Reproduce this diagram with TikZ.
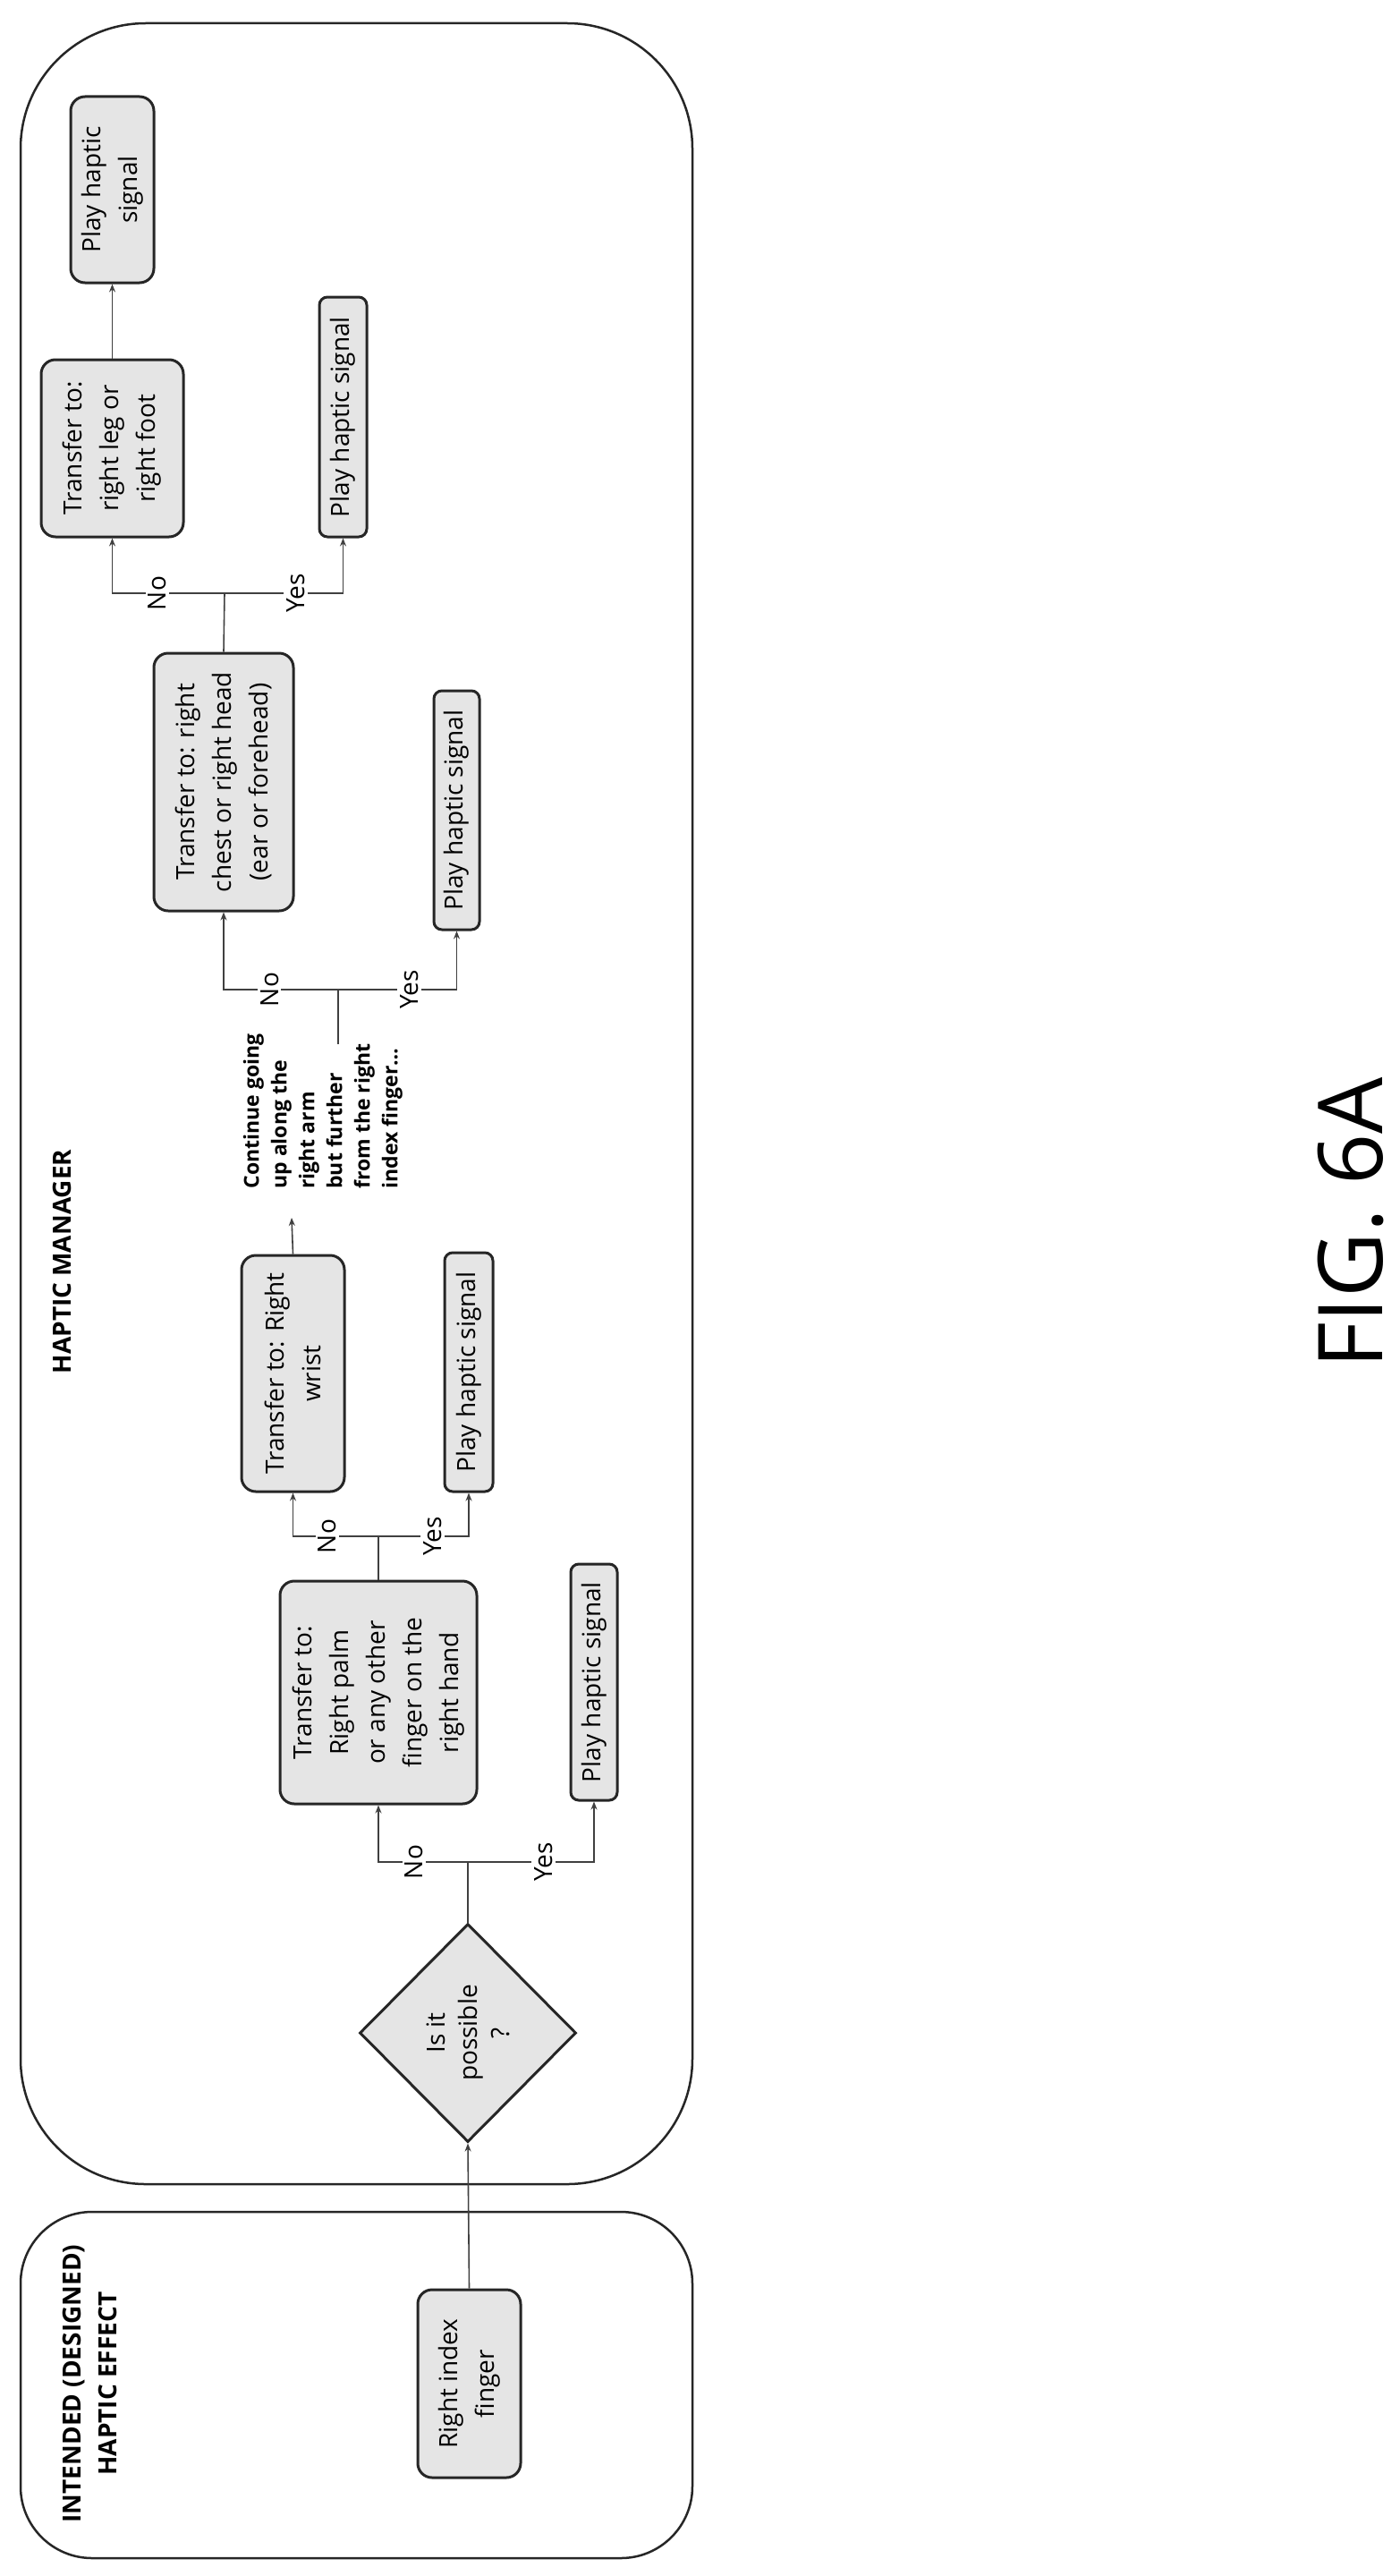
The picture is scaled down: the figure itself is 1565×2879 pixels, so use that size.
\documentclass[tikz,border=0pt]{standalone}
\usepackage{fontspec}
\setmainfont{Open Sans}
\usetikzlibrary{shapes.geometric,arrows.meta}
\begin{document}
\begin{tikzpicture}[x=1pt,y=1pt,
  box/.style={draw=black!85,line width=3pt,fill=black!10,rounded corners=16pt,rotate=90,align=center,inner sep=2pt,
     font=\fontsize{28}{41}\selectfont},
  play/.style={box,rounded corners=9pt},
  conn/.style={line width=1.6pt,draw=black!75},
  arr/.style={conn,-{Stealth[length=9pt,width=7pt]}},
  lab/.style={rotate=90,fill=white,inner sep=3pt,font=\fontsize{28}{30}\selectfont},
  frame/.style={draw=black!85,line width=2.5pt},
  ttl/.style={rotate=90,align=center,font=\bfseries\fontsize{28}{40}\selectfont}]
\useasboundingbox (0,0) rectangle (1565,-2879);
% frames
\draw[frame,rounded corners=140pt] (23,-26) rectangle (774,-2441);
\draw[frame,rounded corners=80pt] (23,-2472) rectangle (774,-2859);
\node[ttl] (t1) at (69,-1410) {HAPTIC MANAGER};
\node[ttl] (t2) at (100,-2664) {INTENDED (DESIGNED)\\HAPTIC EFFECT};
\node[rotate=90,font=\fontsize{100}{110}\selectfont] (fig) at (1510,-1367) {FIG. 6A};
% nodes
\node[box,minimum width=210pt,minimum height=115pt] (finger) at (524.5,-2664) {Right index\\finger};
\node[draw=black!85,line width=3pt,fill=black!10,diamond,rotate=90,inner sep=0pt,
  minimum width=244pt,minimum height=242pt,align=center,font=\fontsize{28}{36}\selectfont] (dia) at (523,-2272) {Is it\\possible\\?};
\node[box,minimum width=249pt,minimum height=220pt] (palm) at (423,-1891.5) {Transfer to:\\Right palm\\or any other\\finger on the\\right hand};
\node[play,minimum width=264pt,minimum height=52pt] (p1) at (664,-1880) {Play haptic signal};
\node[box,minimum width=264pt,minimum height=115pt] (wrist) at (327.5,-1535) {Transfer to: Right\\wrist};
\node[play,minimum width=267pt,minimum height=54pt] (p2) at (524,-1533.5) {Play haptic signal};
\node[box,minimum width=288pt,minimum height=156pt] (chest) at (250,-874) {Transfer to: right\\chest or right head\\(ear or forehead)};
\node[play,minimum width=267pt,minimum height=51pt] (p3) at (510.5,-905.5) {Play haptic signal};
\node[box,minimum width=198pt,minimum height=159pt] (leg) at (125.5,-501) {Transfer to:\\right leg or\\right foot};
\node[play,minimum width=268pt,minimum height=53pt] (p4) at (383.5,-466) {Play haptic signal};
\node[box,minimum width=208pt,minimum height=93pt] (p5) at (125.5,-212) {Play haptic\\signal};
\node[rotate=90,align=left,font=\bfseries\fontsize{23}{31}\selectfont] (cont) at (361,-1242)
  {Continue going\\up along the\\right arm\\but further\\from the right\\index finger\dots};
% coordinates
\coordinate (b1) at (523,-2081);
\coordinate (b2) at (423,-1717);
\coordinate (c1) at (326,-1361);
\coordinate (s3) at (378,-1167);
\coordinate (b3) at (378,-1106);
\coordinate (b4) at (251,-663);
% connectors
\draw[arr] (finger.east) -- (dia.west);
\draw[conn] (dia.east) -- (b1);
\draw[arr] (b1) -| node[lab,pos=.3]{No} (palm.west);
\draw[arr] (b1) -| node[lab,pos=.3]{Yes} (p1.west);
\draw[conn] (palm.east) -- (b2);
\draw[arr] (b2) -| node[lab,pos=.3]{No} (wrist.west);
\draw[arr] (b2) -| node[lab,pos=.3]{Yes} (p2.west);
\draw[arr] (wrist.east) -- (c1);
\draw[conn] (s3) -- (b3);
\draw[arr] (b3) -| node[lab,pos=.3]{No} (chest.west);
\draw[arr] (b3) -| node[lab,pos=.3]{Yes} (p3.west);
\draw[conn] (chest.east) -- (b4);
\draw[arr] (b4) -| node[lab,pos=.3]{No} (leg.west);
\draw[arr] (b4) -| node[lab,pos=.3]{Yes} (p4.west);
\draw[arr] (leg.east) -- (p5.west);
\end{tikzpicture}
\end{document}
